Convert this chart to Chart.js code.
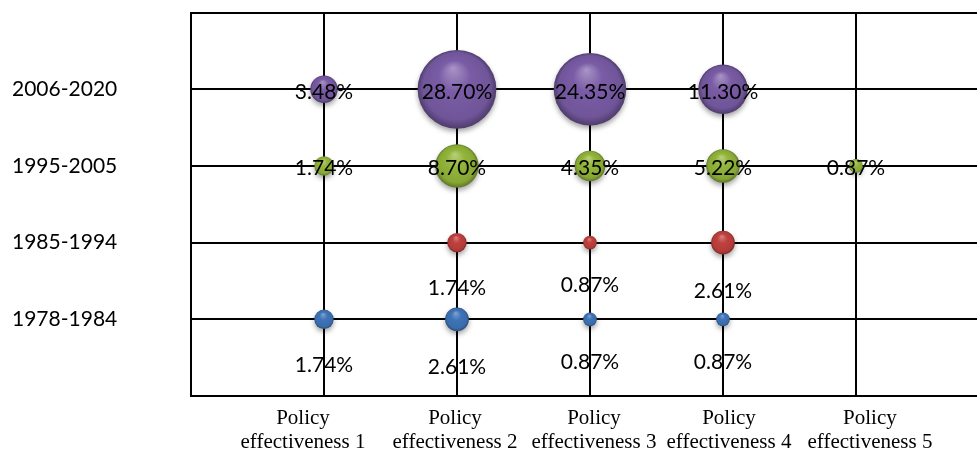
<!DOCTYPE html>
<html>
<head>
<meta charset="utf-8">
<script src="https://cdn.jsdelivr.net/npm/chart.js@4.4.1/dist/chart.umd.min.js"></script>
<style>
  html, body { margin: 0; padding: 0; background: #fff; }
  #wrap { width: 977px; height: 450px; }
</style>
</head>
<body>
<div id="wrap"><canvas id="c" width="977" height="450"></canvas></div>
<script>
// Periods (rows, bottom to top) and policy-effectiveness levels (columns)
const periods = ['1978-1984', '1985-1994', '1995-2005', '2006-2020'];
const policyLevels = [
  ['Policy', 'effectiveness 1'],
  ['Policy', 'effectiveness 2'],
  ['Policy', 'effectiveness 3'],
  ['Policy', 'effectiveness 4'],
  ['Policy', 'effectiveness 5']
];

// Share of policies (%) per effectiveness level; null = no policies
const share1978 = [1.74, 2.61, 0.87, 0.87, null];
const share1985 = [null, 1.74, 0.87, 2.61, null];
const share1995 = [1.74, 8.70, 4.35, 5.22, 0.87];
const share2006 = [3.48, 28.70, 24.35, 11.30, null];

const seriesShares = [share1978, share1985, share1995, share2006];
const seriesColors = ['#3f74b8', '#c0403e', '#93b53a', '#7a5ca6'];
const labelPlacement = ['below', 'below', 'center', 'center'];

// bubble area proportional to share
const RADIUS_PER_SQRT = 7.35;

// where each category caption sits along the x scale
const captionAt = [0.842, 1.985, 3.03, 4.045, 5.105];

function shade(hex, amt) {
  const n = parseInt(hex.slice(1), 16);
  let r = n >> 16, g = (n >> 8) & 255, b = n & 255;
  const t = amt < 0 ? 0 : 255, p = Math.abs(amt);
  r = Math.round((t - r) * p + r);
  g = Math.round((t - g) * p + g);
  b = Math.round((t - b) * p + b);
  return `rgb(${r},${g},${b})`;
}

// glossy sphere fill for each bubble
function sphereFill(ctx) {
  const base = ctx.dataset.baseColor;
  if (ctx.type !== 'data' || !ctx.raw) return base;
  const sx = ctx.chart.scales.x, sy = ctx.chart.scales.y;
  if (!sx || !sy) return base;
  const cx = sx.getPixelForValue(ctx.raw.x);
  const cy = sy.getPixelForValue(ctx.raw.y);
  const r = ctx.raw.r;
  if (!isFinite(cx) || !isFinite(cy) || !isFinite(r)) return base;
  const g = ctx.chart.ctx.createRadialGradient(cx - 0.1 * r, cy - 0.55 * r, 0, cx, cy, r);
  g.addColorStop(0, shade(base, 0.35));
  g.addColorStop(0.4, base);
  g.addColorStop(0.85, shade(base, -0.08));
  g.addColorStop(1, shade(base, -0.35));
  return g;
}

const datasets = seriesShares.map((shares, row) => ({
  label: periods[row],
  baseColor: seriesColors[row],
  labelAt: labelPlacement[row],
  data: shares
    .map((v, col) => v == null ? null : { x: col + 1, y: row + 1, r: RADIUS_PER_SQRT * Math.sqrt(v), v })
    .filter(Boolean),
  backgroundColor: sphereFill,
  borderWidth: 0,
  clip: false
}));

// soft drop shadow under the bubbles
const bubbleShadow = {
  id: 'bubbleShadow',
  beforeDatasetsDraw(chart) {
    const c = chart.ctx;
    c.save();
    c.shadowColor = 'rgba(0,0,0,0.35)';
    c.shadowBlur = 5;
    c.shadowOffsetY = 3;
  },
  afterDatasetsDraw(chart) {
    chart.ctx.restore();
  }
};

// percentage caption for every bubble
const shareLabels = {
  id: 'shareLabels',
  afterDatasetsDraw(chart) {
    const c = chart.ctx;
    c.save();
    c.font = '21px Lato';
    c.fillStyle = '#000';
    c.textAlign = 'center';
    c.textBaseline = 'alphabetic';
    chart.data.datasets.forEach((ds, i) => {
      const meta = chart.getDatasetMeta(i);
      meta.data.forEach((el, j) => {
        const pt = ds.data[j];
        const text = pt.v.toFixed(2) + '%';
        const y = ds.labelAt === 'below' ? el.y + pt.r + 43 : el.y + 9.5;
        c.fillText(text, el.x, y);
      });
    });
    c.restore();
  }
};

new Chart(document.getElementById('c'), {
  type: 'bubble',
  data: { datasets },
  options: {
    responsive: false,
    animation: false,
    events: [],
    layout: { autoPadding: false, padding: { left: 12, top: 11, right: 0, bottom: 0 } },
    plugins: { legend: { display: false }, tooltip: { enabled: false } },
    scales: {
      x: {
        type: 'linear',
        min: 0,
        max: 5.91,
        afterBuildTicks(scale) {
          const vals = [0, 1, 2, 3, 4, 5].concat(captionAt).sort((a, b) => a - b);
          scale.ticks = vals.map(v => ({ value: v }));
        },
        afterFit(scale) { scale.height = 54; },
        ticks: {
          autoSkip: false,
          maxRotation: 0,
          minRotation: 0,
          padding: 10,
          color: '#000',
          font: { family: 'Liberation Serif', size: 21, lineHeight: 1.15 },
          callback(value) {
            const k = captionAt.indexOf(value);
            return k >= 0 ? policyLevels[k] : '';
          }
        },
        grid: {
          drawTicks: false,
          lineWidth: 2,
          color: ctx => (ctx.tick && Number.isInteger(ctx.tick.value)) ? '#000' : 'rgba(0,0,0,0)'
        },
        border: { display: true, color: '#000', width: 2 }
      },
      y: {
        type: 'linear',
        min: 0,
        max: 5,
        afterFit(scale) { scale.width = 179; },
        ticks: {
          stepSize: 1,
          crossAlign: 'far',
          padding: 0,
          color: '#000',
          font: { family: 'Lato', size: 21 },
          callback: v => (v >= 1 && v <= 4) ? periods[v - 1] : ''
        },
        grid: { drawTicks: false, lineWidth: 2, color: '#000' },
        border: { display: true, color: '#000', width: 2 }
      }
    }
  },
  plugins: [bubbleShadow, shareLabels]
});
</script>
</body>
</html>
